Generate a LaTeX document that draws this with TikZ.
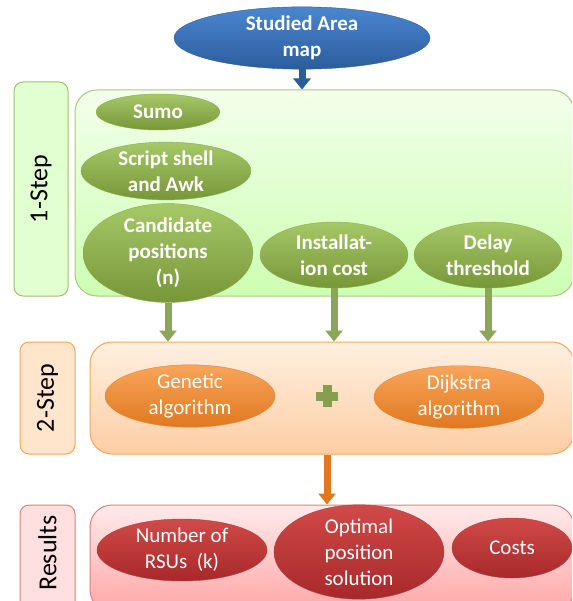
\documentclass[tikz,border=0pt]{standalone}
\usepackage{fontspec}
\setmainfont{Carlito}
\usetikzlibrary{calc,shapes.geometric,fit,arrows.meta}

\definecolor{blueTop}{HTML}{4A86CF}
\definecolor{blueBot}{HTML}{2B5D9C}
\definecolor{greenTop}{HTML}{A6C867}
\definecolor{greenBot}{HTML}{779638}
\definecolor{greenLine}{HTML}{8AAE4A}
\definecolor{orangeTop}{HTML}{F9A55A}
\definecolor{orangeBot}{HTML}{E0781F}
\definecolor{redTop}{HTML}{D04A48}
\definecolor{redBot}{HTML}{A8282A}

\tikzset{
  oval/.style={ellipse, inner sep=0pt, text=white, align=center,
    font=\fontsize{21}{26}\selectfont},
  blueoval/.style={oval, top color=blueTop, bottom color=blueBot, draw=blueBot,
    font=\fontsize{21}{26}\selectfont\bfseries},
  greenoval/.style={oval, top color=greenTop, bottom color=greenBot, draw=greenLine,
    font=\fontsize{21}{26}\selectfont\bfseries},
  orangeoval/.style={oval, top color=orangeTop, bottom color=orangeBot, draw=orangeBot!90},
  redoval/.style={oval, top color=redTop, bottom color=redBot, draw=redBot!90},
  panel/.style={inner sep=0pt, rounded corners=22pt, line width=1pt},
  sidebox/.style={inner sep=0pt, rounded corners=9pt, line width=1pt},
  sidetext/.style={rotate=90, font=\fontsize{26}{30}\selectfont},
  flow/.style={line width=7pt, -{Triangle[width=17pt,length=11pt]}},
}

\begin{document}
\begin{tikzpicture}[x=1pt,y=-1pt]
		%%%%% START %%%%%
		\clip (0,0) rectangle (572,601);

		% step 1
		\node[sidebox, fill=green!50!lime!18, draw=greenLine!80, fit={(14,82) (68,296)}] (onelbl) {};
		\node[sidetext] (onetxt) at (onelbl.center) {1-Step};
		\node[panel, top color=green!40!lime!8, bottom color=green!55!lime!30, draw=greenLine!70,
		  fit={(75,90) (574,296)}] (onebox) {};

		\node[blueoval, minimum width=256pt, minimum height=58pt] (area) at (302,38) {Studied Area\\map};

		\node[greenoval, minimum width=124pt, minimum height=36pt] (sumo) at (158,112) {Sumo};
		\node[greenoval, minimum width=170pt, minimum height=56pt] (awk) at (166,171) {Script shell\\and Awk};
		\node[greenoval, minimum width=170pt, minimum height=86pt] (cand) at (168,253) {Candidate\\positions\\(n)};
		\node[greenoval, minimum width=148pt, minimum height=66pt] (inst) at (334,255) {Installat-\\ion cost};
		\node[greenoval, minimum width=148pt, minimum height=66pt] (delay) at (488,255) {Delay\\threshold};

		% step 2
		\node[sidebox, fill=orange!20, draw=orangeTop, fit={(20,342) (75,454)}] (twolbl) {};
		\node[sidetext] (twotxt) at (twolbl.center) {2-Step};
		\node[panel, top color=orange!12, bottom color=orangeTop!55, draw=orangeTop,
		  fit={(90,342) (574,454)}] (twobox) {};

		\node[orangeoval, minimum width=170pt, minimum height=60pt] (gen) at (190,396) {Genetic\\algorithm};
		\node[orangeoval, minimum width=170pt, minimum height=60pt] (dijk) at (459,397) {Dijkstra\\algorithm};
		\coordinate (plus) at (327,396);
		\fill[greenBot!90] ($(plus)+(-4.5,-11)$) rectangle ($(plus)+(4.5,11)$);
		\fill[greenBot!90] ($(plus)+(-11,-4.5)$) rectangle ($(plus)+(11,4.5)$);

		% results
		\node[sidebox, fill=red!12, draw=redTop!70, fit={(20,505) (75,612)}] (reslbl) {};
		\node[sidetext] (restxt) at (47.5,553) {Results};
		\node[panel, top color=red!8, bottom color=red!35, draw=redTop!70,
		  fit={(90,505) (574,612)}] (resbox) {};

		\node[redoval, minimum width=170pt, minimum height=62pt] (num) at (182,550) {Number of\\RSUs~ (k)};
		\node[redoval, minimum width=170pt, minimum height=80pt] (opt) at (359,552) {Optimal\\position\\solution};
		\node[redoval, minimum width=120pt, minimum height=60pt] (cost) at (512,548) {Costs};

		% arrows
		\draw[flow, blueBot] (area.south) -- (area.south |- onebox.north);
		\draw[flow, greenBot!85] (cand.south) -- (cand.south |- twobox.north);
		\draw[flow, greenBot!85] (inst.south) -- (inst.south |- twobox.north);
		\draw[flow, greenBot!85] (delay.south) -- (delay.south |- twobox.north);
		\draw[flow, orangeBot] (plus |- twobox.south) -- (plus |- resbox.north);
		%%%%% END %%%%%
	\end{tikzpicture}
\end{document}
